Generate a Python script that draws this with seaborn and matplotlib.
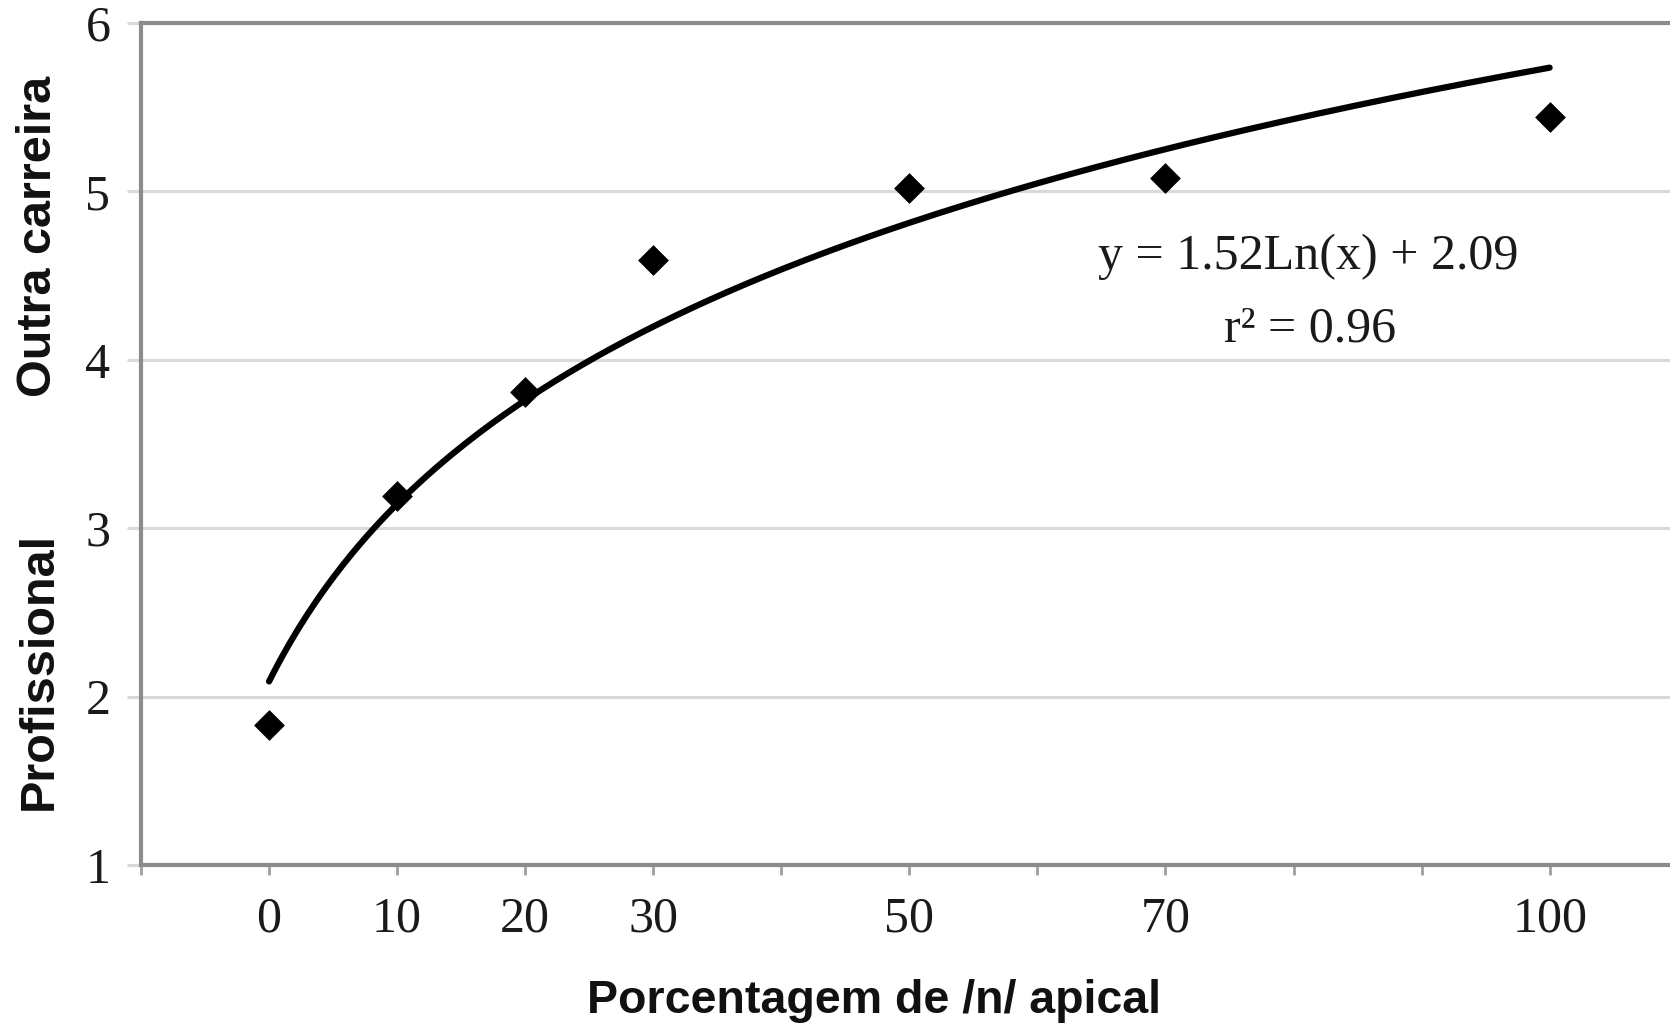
import numpy as np
import pandas as pd
import matplotlib
matplotlib.use("Agg")
import matplotlib.pyplot as plt
import seaborn as sns

# Data
pct_apical = [0, 10, 20, 30, 50, 70, 100]
score = [1.83, 3.19, 3.81, 4.59, 5.02, 5.08, 5.44]
xtick_labels = ["0", "10", "20", "30", "50", "70", "100"]
yticks = [1, 2, 3, 4, 5, 6]

# Logarithmic trendline shown on the chart: y = 1.52 Ln(x) + 2.09,
# where x is the category index (1..11 across 0..100 in steps of 10)
coef_a = 1.52
coef_b = 2.09

sns.set_theme(style="white")
plt.rcParams["font.family"] = ["Liberation Serif", "DejaVu Serif"]

fig = plt.figure(figsize=(16.7, 10.26), dpi=100)
ax = fig.add_axes([141 / 1670, 1 - 865 / 1026, 1 - 141 / 1670, (865 - 23) / 1026])

df = pd.DataFrame({"pct": pct_apical, "score": score})
trend_x = np.linspace(0, 100, 300)
trend_df = pd.DataFrame({"x": trend_x, "y": coef_a * np.log(trend_x / 10 + 1) + coef_b})

sns.lineplot(data=trend_df, x="x", y="y", ax=ax, color="black", linewidth=4.5, zorder=3)
sns.scatterplot(data=df, x="pct", y="score", ax=ax, marker="D", s=230,
                color="black", edgecolor="black", linewidth=0.5, zorder=4)

ax.set_xlim(-10, 109.4)
ax.set_ylim(1, 6)
ax.set_yticks(yticks)
ax.set_yticklabels([str(v) for v in yticks])
ax.set_xticks(pct_apical)
ax.set_xticklabels(xtick_labels)
ax.set_xticks(np.arange(-10, 110, 10), minor=True)

ax.yaxis.grid(True, color="#d9d9d9", linewidth=2.2)
ax.xaxis.grid(False)
ax.set_axisbelow(True)

for side in ["left", "bottom", "top"]:
    ax.spines[side].set_visible(True)
    ax.spines[side].set_color("#8c8c8c")
    ax.spines[side].set_linewidth(3)
ax.spines["right"].set_visible(False)

ax.tick_params(axis="y", which="major", left=True, length=10, width=2.2,
               color="#d9d9d9", pad=12, labelsize=36, labelcolor="#1a1a1a")
ax.tick_params(axis="x", which="major", bottom=True, length=7, width=2,
               color="#a0a0a0", pad=15, labelsize=36, labelcolor="#1a1a1a")
ax.tick_params(axis="x", which="minor", bottom=True, length=7, width=2,
               color="#a0a0a0")

ax.set_xlabel("")
ax.set_ylabel("")

sans = ["Liberation Sans", "DejaVu Sans"]
fig.text(874 / 1670, 1 - 1001 / 1026, "Porcentagem de /n/ apical", family=sans,
         fontsize=33.5, fontweight="bold", ha="center", va="center", color="#111111")
fig.text(39 / 1670, 1 - 671 / 1026, "Profissional", family=sans, rotation=90,
         fontsize=35, fontweight="bold", ha="center", va="center", color="#111111")
fig.text(39 / 1670, 1 - 236 / 1026, "Outra carreira", family=sans, rotation=90,
         fontsize=35, fontweight="bold", ha="center", va="center", color="#111111")

fig.text(1308 / 1670, 1 - 257 / 1026, "y = 1.52Ln(x) + 2.09", fontsize=36,
         ha="center", va="center", color="#1a1a1a")
fig.text(1310 / 1670, 1 - 329 / 1026, "r² = 0.96", fontsize=36,
         ha="center", va="center", color="#1a1a1a")

fig.savefig("out.png", dpi=100, facecolor="white")
